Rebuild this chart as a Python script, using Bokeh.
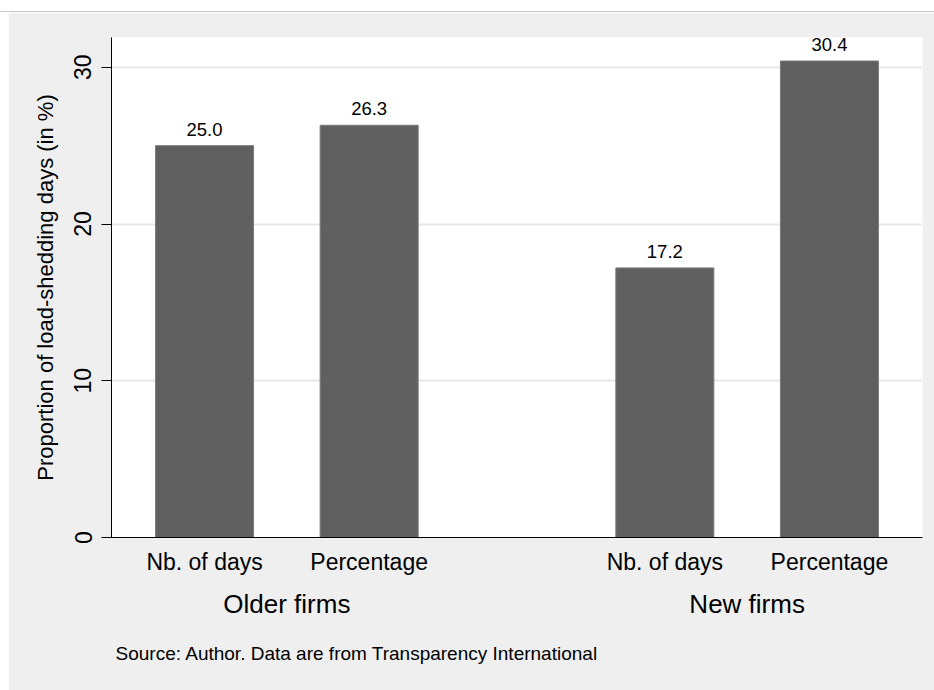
from bokeh.plotting import figure
from bokeh.models import FactorRange, ColumnDataSource, LabelSet, Title, Spacer
from bokeh.layouts import column, row
from bokeh.core.properties import value
from bokeh.embed import file_html
from bokeh.resources import INLINE

# ---- data ----
groups = ["Older firms", "New firms"]
measures = ["Nb. of days", "Percentage"]
older_values = [25.0, 26.3]
new_values = [17.2, 30.4]
y_ticks = [0, 10, 20, 30]
y_title = "Proportion of load-shedding days (in %)"
note = "Source: Author. Data are from Transparency International"

factors = [(g, m) for g in groups for m in measures]
values = older_values + new_values
labels = ["%.1f" % v for v in values]
src = ColumnDataSource(dict(x=factors, top=values, lab=labels))

FONT = "Liberation Sans"

p = figure(
    width=926, height=678,
    x_range=FactorRange(*factors, factor_padding=0.0967, group_padding=0.97,
                        range_padding=0.12, range_padding_units="absolute"),
    y_range=(0, 31.9),
    output_backend="svg", toolbar_location=None,
    min_border_left=103, min_border_right=12, min_border_top=25, min_border_bottom=153,
)
p.background_fill_color = "white"
p.border_fill_color = "#efefef"
p.outline_line_color = None

p.vbar(x="x", top="top", width=0.653, source=src,
       fill_color="#606060", line_color="#7a7a7a", line_width=1)

p.add_layout(LabelSet(x="x", y="top", text="lab", source=src, y_offset=10,
                      text_align="center", text_baseline="alphabetic",
                      text_font_size=value("18.5px"), text_font=value(FONT),
                      text_color="black"))

# y axis
p.yaxis.ticker = y_ticks
p.yaxis.axis_label = y_title
p.yaxis.axis_label_text_font = FONT
p.yaxis.axis_label_text_font_size = "22px"
p.yaxis.axis_label_text_font_style = "normal"
p.yaxis.axis_label_text_color = "black"
p.yaxis.axis_label_standoff = 14
p.yaxis.major_label_orientation = "vertical"
p.yaxis.major_label_text_font = FONT
p.yaxis.major_label_text_font_size = "23px"
p.yaxis.major_label_text_color = "black"
p.yaxis.major_label_standoff = 10
p.yaxis.major_tick_out = 10
p.yaxis.major_tick_in = 0
p.yaxis.minor_tick_line_color = None
p.yaxis.axis_line_color = "black"
p.yaxis.major_tick_line_color = "black"

# x axis
p.xaxis.major_label_text_font = FONT
p.xaxis.major_label_text_font_size = "23px"
p.xaxis.major_label_text_color = "black"
p.xaxis.major_label_standoff = 11
p.xaxis.major_tick_line_color = None
p.xaxis.major_tick_out = 0
p.xaxis.group_text_font = FONT
p.xaxis.group_text_font_size = "26px"
p.xaxis.group_text_font_style = "normal"
p.xaxis.group_text_color = "black"
p.xaxis.separator_line_color = None
p.xaxis.axis_line_color = "black"

p.xgrid.grid_line_color = None
p.ygrid.grid_line_color = "#e8e8e8"
p.ygrid.grid_line_width = 2

p.add_layout(Title(text=note, align="left", offset=4, standoff=38,
                   text_font=FONT, text_font_size="19px",
                   text_font_style="normal", text_color="black"), "below")

top_strip = Spacer(width=934, height=12,
                   styles={"border-bottom": "1px solid #c8c8c8", "box-sizing": "border-box"})
layout = column(top_strip, row(Spacer(width=8, height=678), p))
open("out.html", "w").write(file_html(layout, INLINE))
